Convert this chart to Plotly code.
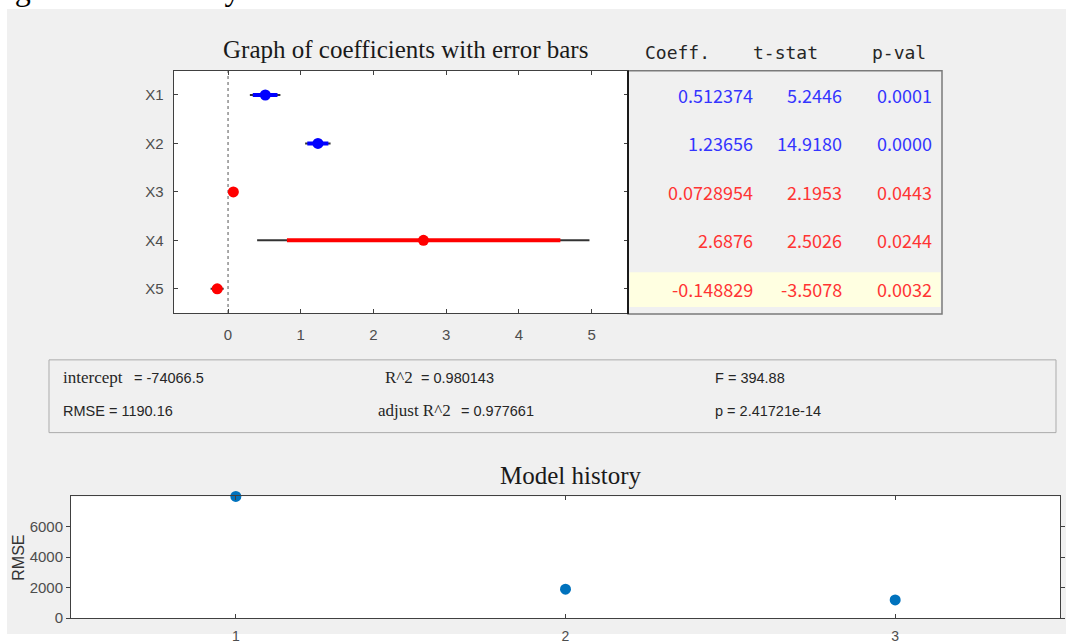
import plotly.graph_objects as go

# ---------------- data ----------------
terms = ["X1", "X2", "X3", "X4", "X5"]
coef = [0.512374, 1.23656, 0.0728954, 2.6876, -0.148829]
tstat = [5.2446, 14.9180, 2.1953, 2.5026, -3.5078]
pval = [0.0001, 0.0000, 0.0443, 0.0244, 0.0032]
ci95_lo = [0.30, 1.06, 0.00, 0.40, -0.24]
ci95_hi = [0.72, 1.41, 0.14, 4.97, -0.06]
ci90_lo = [0.34, 1.09, 0.02, 0.81, -0.22]
ci90_hi = [0.68, 1.38, 0.13, 4.57, -0.08]
in_model = [True, True, False, False, False]

coef_ticks = [0, 1, 2, 3, 4, 5]
table_headers = ["Coeff.", "t-stat", "p-val"]

stat_intercept = -74066.5
stat_rmse = 1190.16
stat_r2 = 0.980143
stat_adj_r2 = 0.977661
stat_f = 394.88
stat_p = "2.41721e-14"

history_step = [1, 2, 3]
history_rmse = [8000, 1900, 1190.16]
history_yticks = [0, 2000, 4000, 6000]

caption = "Figure 1 is an analysis of the error."

# ---------------- helpers (reference pixel -> paper fraction) ----------------
W, H = 1066, 644
H_EFF = 636  # vertical layout scale that lines the render up with the reference


def px(x):
    return x / W


def py(y):
    return 1 - y / H_EFF


BLUE = "#0000ff"
RED = "#ff0000"
TXT_BLUE = "#3434ff"
TXT_RED = "#ff3434"
AX = "#404040"
TICKTXT = "#4d4d4d"
SANS = "Liberation Sans, Arial, sans-serif"
SERIF = "Liberation Serif, Times New Roman, serif"
MONO = "DejaVu Sans Mono, monospace"
CJK = "Noto Sans CJK SC, Noto Sans, sans-serif"

ypos = list(range(1, len(terms) + 1))
colors = [BLUE if m else RED for m in in_model]

fig = go.Figure()

# 95% intervals (thin dark)
for i in range(len(terms)):
    fig.add_trace(go.Scatter(
        x=[ci95_lo[i], ci95_hi[i]], y=[ypos[i], ypos[i]], mode="lines",
        line=dict(color="#333333", width=2), xaxis="x", yaxis="y",
        hoverinfo="skip"))
# 90% intervals (thick coloured)
for i in range(len(terms)):
    fig.add_trace(go.Scatter(
        x=[ci90_lo[i], ci90_hi[i]], y=[ypos[i], ypos[i]], mode="lines",
        line=dict(color=colors[i], width=4), xaxis="x", yaxis="y",
        hoverinfo="skip"))
# point estimates
fig.add_trace(go.Scatter(
    x=coef, y=ypos, mode="markers",
    marker=dict(color=colors, size=11, line=dict(width=0)),
    xaxis="x", yaxis="y"))

# model history
fig.add_trace(go.Scatter(
    x=history_step, y=history_rmse, mode="markers",
    marker=dict(color="#0072bd", size=11, line=dict(width=0)),
    xaxis="x2", yaxis="y2", cliponaxis=False))

shapes = []
# grey figure panel
shapes.append(dict(type="rect", xref="paper", yref="paper", x0=px(7), x1=1,
                   y0=0, y1=py(9), fillcolor="#f0f0f0", line=dict(width=0),
                   layer="below"))
# white plot areas
shapes.append(dict(type="rect", xref="paper", yref="paper", x0=px(173.5), x1=px(628),
                   y0=py(314), y1=py(71), fillcolor="white", line=dict(width=0),
                   layer="below"))
shapes.append(dict(type="rect", xref="paper", yref="paper", x0=px(71), x1=px(1060),
                   y0=py(620), y1=py(498), fillcolor="white", line=dict(width=0),
                   layer="below"))
# table box
shapes.append(dict(type="rect", xref="paper", yref="paper", x0=px(628), x1=px(942),
                   y0=py(315), y1=py(71), fillcolor="#f0f0f0",
                   line=dict(color="#7a7a7a", width=1.5), layer="below"))
# highlighted last row
shapes.append(dict(type="rect", xref="paper", yref="paper", x0=px(629.5), x1=px(940.5),
                   y0=py(308), y1=py(273), fillcolor="#ffffe1",
                   line=dict(width=0), layer="below"))
# dark separator between plot and table
shapes.append(dict(type="line", xref="paper", yref="paper", x0=px(628), x1=px(628),
                   y0=py(315), y1=py(71), line=dict(color="#1a1a1a", width=2)))
# zero reference line
shapes.append(dict(type="line", xref="x", yref="y domain", x0=0, x1=0, y0=0, y1=1,
                   line=dict(color="#555555", width=1, dash="dot"), layer="below"))
# stats box
shapes.append(dict(type="rect", xref="paper", yref="paper", x0=px(49), x1=px(1056),
                   y0=py(434), y1=py(361), fillcolor="rgba(0,0,0,0)",
                   line=dict(color="#ababab", width=1), layer="below"))

ann = []
# clipped document caption at the very top
ann.append(dict(text=caption, xref="paper", yref="paper", x=px(434), y=py(9.5),
                xanchor="right", yanchor="bottom", showarrow=False,
                font=dict(family=SERIF, size=32, color="#000000")))
# titles
ann.append(dict(text="Graph of coefficients with error bars", xref="paper", yref="paper",
                x=px(405), y=py(50), xanchor="center", yanchor="middle", showarrow=False,
                font=dict(family=SERIF, size=25, color="#1a1a1a")))
ann.append(dict(text="Model history", xref="paper", yref="paper",
                x=px(570), y=py(477), xanchor="center", yanchor="middle", showarrow=False,
                font=dict(family=SERIF, size=25, color="#1a1a1a")))
ann.append(dict(text="RMSE", xref="paper", yref="paper", x=px(18.5), y=py(560),
                xanchor="center", yanchor="middle", textangle=-90, showarrow=False,
                font=dict(family=SANS, size=16, color="#333333")))
# table header
for h, xl in zip(table_headers, [643, 751, 870]):
    ann.append(dict(text=h, xref="paper", yref="paper", x=px(xl), y=py(53),
                    xanchor="left", yanchor="middle", showarrow=False,
                    font=dict(family=MONO, size=18, color="#262626")))
# table rows
for i in range(len(terms)):
    tc = TXT_BLUE if in_model[i] else TXT_RED
    cells = [format(coef[i], "g"), f"{tstat[i]:.4f}", f"{pval[i]:.4f}"]
    for txt, xr in zip(cells, [755, 844, 934]):
        ann.append(dict(text=txt, xref="paper", yref="y", x=px(xr), y=ypos[i],
                        xanchor="right", yanchor="middle", showarrow=False,
                        font=dict(family=CJK, size=18, color=tc)))


def stat(text, x, y, family, size):
    ann.append(dict(text=text, xref="paper", yref="paper", x=px(x), y=py(y),
                    xanchor="left", yanchor="middle", showarrow=False,
                    font=dict(family=family, size=size, color="#262626")))


stat("intercept", 61, 379, SERIF, 17)
stat(f"= {stat_intercept}", 131.5, 379, SANS, 14.5)
stat("RMSE = " + f"{stat_rmse}", 60.5, 412, SANS, 14.5)
stat("R^2", 383, 379, SERIF, 17)
stat(f"= {stat_r2}", 419, 379, SANS, 14.5)
stat("adjust R^2", 376, 412, SERIF, 17)
stat(f"= {stat_adj_r2}", 459, 412, SANS, 14.5)
stat(f"F = {stat_f}", 712.5, 379, SANS, 14.5)
stat(f"p = {stat_p}", 712.5, 412, SANS, 14.5)

axis_common = dict(showgrid=False, zeroline=False, showline=True, linecolor=AX,
                   linewidth=1, mirror="ticks", tickcolor=AX, ticklen=4,
                   tickwidth=1)

fig.update_layout(
    width=W, height=H, margin=dict(l=0, r=0, t=0, b=0, pad=0),
    paper_bgcolor="white", plot_bgcolor="white", showlegend=False,
    xaxis=dict(domain=[px(173.5), px(628)], range=[-0.75, 5.5], tickvals=coef_ticks,
               ticks="inside", anchor="y", ticklabelstandoff=8,
               tickfont=dict(family=SANS, size=15, color=TICKTXT), **axis_common),
    yaxis=dict(domain=[py(314), py(71)], range=[5.5, 0.5], tickvals=ypos, ticktext=terms,
               ticks="inside", anchor="x", ticklabelstandoff=6,
               tickfont=dict(family=SANS, size=15, color=TICKTXT), **axis_common),
    xaxis2=dict(domain=[px(71), px(1060)], range=[0.5, 3.5], tickvals=history_step,
                ticks="inside", anchor="y2", ticklabelstandoff=5,
                tickfont=dict(family=SANS, size=14, color=TICKTXT), **axis_common),
    yaxis2=dict(domain=[py(620), py(498)], range=[0, 8000], tickvals=history_yticks,
                ticks="outside", anchor="x2",
                tickfont=dict(family=SANS, size=15, color=TICKTXT), **axis_common),
    shapes=shapes, annotations=ann,
)

fig.write_html(
    "out.html",
    config={"displayModeBar": False},
    post_script="document.body.style.margin='0';document.body.style.overflow='hidden';",
)
